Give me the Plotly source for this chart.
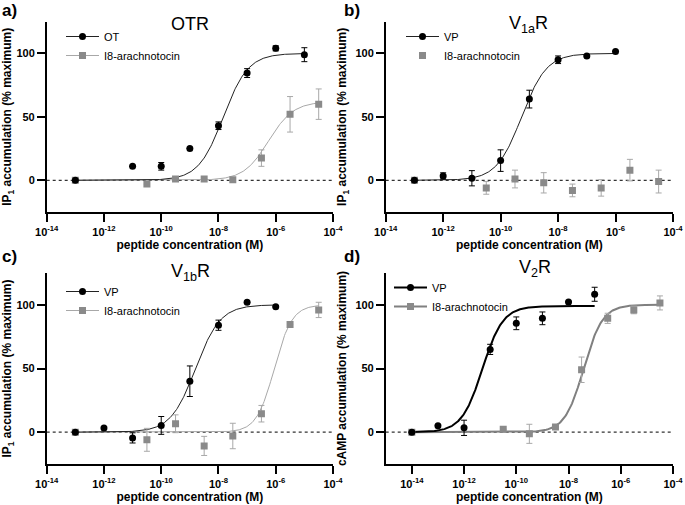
import numpy as np
import plotly.graph_objects as go

W, H = 685, 505

# ---------------- data (log10 of molar concentration) ----------------
# Panel a: OTR
a_ot_logc = [-13, -11, -10, -9, -8, -7, -6, -5]
a_ot_y = [0, 11, 11, 25, 43, 84.5, 104, 99]
a_ot_err = [0, 0, 3, 0, 3, 3.5, 2, 5.5]
a_i8_logc = [-13, -10.5, -9.5, -8.5, -7.5, -6.5, -5.5, -4.5]
a_i8_y = [0, -3, 1, 1, 0.5, 17.5, 52, 60]
a_i8_err = [0, 0, 0, 0, 0, 6.5, 14, 12]

# Panel b: V1aR
b_vp_logc = [-13, -12, -11, -10, -9, -8, -7, -6]
b_vp_y = [0, 3.4, 1.6, 15.5, 64, 95, 98, 101.6]
b_vp_err = [0, 2.5, 6, 8.5, 7, 3, 0, 0]
b_i8_logc = [-13, -10.5, -9.5, -8.5, -7.5, -6.5, -5.5, -4.5]
b_i8_y = [0, -6, 1, -2, -8, -6, 8, -1]
b_i8_err = [0, 5, 7, 8, 5, 6.5, 8.5, 9]

# Panel c: V1bR
c_vp_logc = [-13, -12, -11, -10, -9, -8, -7, -6]
c_vp_y = [0, 3.2, -4.5, 5.3, 40, 84, 102, 98.4]
c_vp_err = [0, 0, 4, 7, 12, 4, 0, 0]
c_i8_logc = [-13, -10.5, -9.5, -8.5, -7.5, -6.5, -5.5, -4.5]
c_i8_y = [0, -6, 6.6, -10.8, -3, 14.5, 84.5, 96]
c_i8_err = [0, 9, 7, 7.5, 10, 6.5, 0, 6]

# Panel d: V2R
d_vp_logc = [-14, -13, -12, -11, -10, -9, -8, -7]
d_vp_y = [0, 5, 3.4, 65, 85.5, 89.4, 102.3, 108.3]
d_vp_err = [0, 0, 6, 4, 5, 5, 0, 5.5]
d_i8_logc = [-14, -10.5, -9.5, -8.5, -7.5, -6.5, -5.5, -4.5]
d_i8_y = [0, 2.3, -1.3, 4, 49, 89.4, 96, 101.5]
d_i8_err = [0, 0, 7.5, 0, 10, 4, 3, 5.5]

# fitted curve parameters: bottom, top, logEC50, hill slope, from, to
a_ot_fit = [0, 100, -7.83, 1.0, -13, -5]
a_i8_fit = [0, 62, -6.25, 1.0, -13, -4.5]
b_vp_fit = [0, 100, -9.27, 1.0, -13, -6]
c_vp_fit = [0, 100, -8.8, 1.0, -13, -6]
c_i8_fit = [0, 100, -6.05, 1.4, -13, -4.5]
d_vp_fit = [0, 99, -11.3, 1.1, -14, -7]
d_i8_fit = [0, 100, -7.42, 1.2, -14, -4.5]

titles = ["OTR", "V<sub>1a</sub>R", "V<sub>1b</sub>R", "V<sub>2</sub>R"]
panel_labels = ["a)", "b)", "c)", "d)"]
ytitles = ["IP<sub>1</sub> accumulation (% maximum)"] * 3 + ["cAMP accumulation (% maximum)"]
xtitle = "peptide concentration (M)"
x_tick_exp = [-14, -12, -10, -8, -6, -4]
y_ticks = [0, 50, 100]

FONT = "Liberation Sans, Arial, sans-serif"
BLACK = "#000000"
GREY_M = "#8a8a8a"
GREY_L = "#a8a8a8"

fig = go.Figure()


def curve(p):
    bottom, top, lec, hill, x0, x1 = p
    lx = np.linspace(x0, x1, 300)
    y = bottom + (top - bottom) / (1 + 10 ** ((lec - lx) * hill))
    return 10 ** lx, y


def pts(logc):
    return [10 ** v for v in logc]


def add_points(n, logc, y, err, symbol, color, ecolor):
    fig.add_trace(go.Scatter(
        x=pts(logc), y=y, mode="markers", xaxis=f"x{n}", yaxis=f"y{n}",
        marker=dict(symbol=symbol, size=7, color=color),
        error_y=dict(type="data", array=err, color=ecolor, thickness=1, width=3),
        showlegend=False))


def add_curve(n, p, color, width):
    cx, cy = curve(p)
    fig.add_trace(go.Scatter(x=cx, y=cy, mode="lines", xaxis=f"x{n}", yaxis=f"y{n}",
                             line=dict(color=color, width=width), showlegend=False))


def add_leg(n, name, symbol, color, lcolor, width, lines=True):
    leg = "legend" if n == 1 else f"legend{n}"
    fig.add_trace(go.Scatter(
        x=[None], y=[None], mode="lines+markers" if lines else "markers", name=name,
        xaxis=f"x{n}", yaxis=f"y{n}", legend=leg,
        marker=dict(symbol=symbol, size=7, color=color),
        line=dict(color=lcolor, width=width)))


# panel a
add_curve(1, a_i8_fit, GREY_L, 1)
add_curve(1, a_ot_fit, "#222222", 1)
add_points(1, a_i8_logc, a_i8_y, a_i8_err, "square", GREY_M, GREY_L)
add_points(1, a_ot_logc, a_ot_y, a_ot_err, "circle", BLACK, BLACK)
add_leg(1, "OT", "circle", BLACK, "#222222", 1)
add_leg(1, "I8-arachnotocin", "square", GREY_M, GREY_L, 1)

# panel b
add_curve(2, b_vp_fit, "#222222", 1)
add_points(2, b_i8_logc, b_i8_y, b_i8_err, "square", GREY_M, GREY_L)
add_points(2, b_vp_logc, b_vp_y, b_vp_err, "circle", BLACK, BLACK)
add_leg(2, "VP", "circle", BLACK, "#222222", 1)
add_leg(2, "I8-arachnotocin", "square", GREY_M, GREY_L, 1, lines=False)

# panel c
add_curve(3, c_i8_fit, GREY_L, 1)
add_curve(3, c_vp_fit, "#222222", 1)
add_points(3, c_i8_logc, c_i8_y, c_i8_err, "square", GREY_M, GREY_L)
add_points(3, c_vp_logc, c_vp_y, c_vp_err, "circle", BLACK, BLACK)
add_leg(3, "VP", "circle", BLACK, "#222222", 1)
add_leg(3, "I8-arachnotocin", "square", GREY_M, GREY_L, 1)

# panel d
add_curve(4, d_i8_fit, "#808080", 2)
add_curve(4, d_vp_fit, BLACK, 2)
add_points(4, d_i8_logc, d_i8_y, d_i8_err, "square", GREY_M, GREY_L)
add_points(4, d_vp_logc, d_vp_y, d_vp_err, "circle", BLACK, BLACK)
add_leg(4, "VP", "circle", BLACK, BLACK, 2)
add_leg(4, "I8-arachnotocin", "square", GREY_M, "#808080", 2)

# ---------------- layout ----------------
# plot areas in pixels: (left, right, top, bottom)
boxes = [(46.7, 333, 21.7, 212), (385.7, 673, 21.7, 212),
         (46.7, 333, 273, 464), (385.7, 673, 273, 464)]
xranges = [[-14, -4], [-14, -4], [-14, -4], [-15, -4]]

layout = dict(width=W, height=H, margin=dict(l=0, r=0, t=0, b=0, autoexpand=False),
              paper_bgcolor="white", plot_bgcolor="white",
              font=dict(family=FONT, color="black", size=11))

axis_common = dict(showgrid=False, zeroline=False, showline=True, linecolor="black",
                   linewidth=1.5, ticks="outside", ticklen=8, tickwidth=1.5,
                   tickcolor="black", automargin=False,
                   tickfont=dict(size=11, weight="bold", family=FONT))

for i, (l, r, t, b) in enumerate(boxes):
    n = i + 1
    xs = "" if n == 1 else str(n)
    layout[f"xaxis{xs}"] = dict(
        axis_common, type="log", range=xranges[i], anchor=f"y{xs}",
        domain=[l / W, r / W], ticklabeloverflow="allow", ticklabelstandoff=1,
        tickvals=[10 ** e for e in x_tick_exp],
        ticktext=[f"10<sup>{e}</sup>" for e in x_tick_exp],
        title=dict(text=xtitle, font=dict(size=12, weight="bold"), standoff=4))
    layout[f"yaxis{xs}"] = dict(
        axis_common, range=[-25, 125], anchor=f"x{xs}",
        domain=[1 - b / H, 1 - t / H], tickvals=y_ticks,
        title=dict(text=ytitles[i], font=dict(size=12, weight="bold"), standoff=6))

legend_pos = [(61, 22), (401, 22), (61, 277), (389, 273)]
for i, (lx, ly) in enumerate(legend_pos):
    key = "legend" if i == 0 else f"legend{i + 1}"
    layout[key] = dict(x=lx / W, y=1 - ly / H, xanchor="left", yanchor="top",
                       bgcolor="rgba(0,0,0,0)", font=dict(size=11, family=FONT),
                       tracegroupgap=0, itemwidth=33)

fig.update_layout(**layout)

# dotted zero lines
for i in range(4):
    xs = "" if i == 0 else str(i + 1)
    fig.add_shape(type="line", xref=f"x{xs} domain", yref=f"y{xs}", x0=0, x1=1, y0=0, y1=0,
                  line=dict(color="#333333", width=1.3, dash="dot"), layer="below")

# panel titles and labels
title_pos = [(190, 24), (528, 24), (190, 272), (535, 268)]
for (tx, ty), txt in zip(title_pos, titles):
    fig.add_annotation(x=tx / W, y=1 - ty / H, xref="paper", yref="paper", text=txt,
                       showarrow=False, font=dict(size=18, family=FONT),
                       xanchor="center", yanchor="middle")
label_pos = [(0, 10), (342, 10), (0, 256), (342, 256)]
for (px, py), txt in zip(label_pos, panel_labels):
    fig.add_annotation(x=px / W, y=1 - py / H, xref="paper", yref="paper", text=txt,
                       showarrow=False, font=dict(size=17, family=FONT, weight="bold"),
                       xanchor="left", yanchor="middle")

fig.write_html("out.html", config={"displayModeBar": False},
               post_script="document.body.style.margin='0';")
